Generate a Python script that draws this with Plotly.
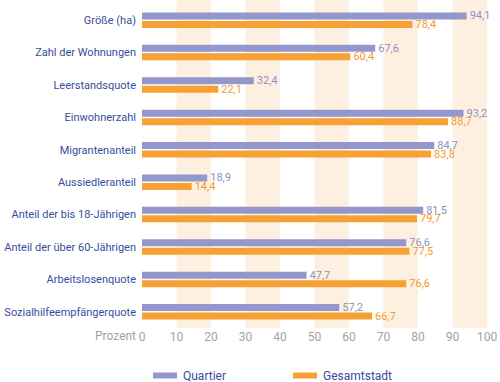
import plotly.graph_objects as go

categories = ["Größe (ha)", "Zahl der Wohnungen", "Leerstandsquote", "Einwohnerzahl",
              "Migrantenanteil", "Aussiedleranteil", "Anteil der bis 18-Jährigen",
              "Anteil der über 60-Jährigen", "Arbeitslosenquote", "Sozialhilfeempfängerquote"]
quartier = [94.1, 67.6, 32.4, 93.2, 84.7, 18.9, 81.5, 76.6, 47.7, 57.2]
gesamtstadt = [78.4, 60.4, 22.1, 88.7, 83.8, 14.4, 79.7, 77.5, 76.6, 66.7]
x_ticks = [0, 10, 20, 30, 40, 50, 60, 70, 80, 90, 100]
bands = [(10, 20), (30, 40), (50, 60), (70, 80), (90, 100)]

PURPLE = "#9397CB"
ORANGE = "#F7A033"
BAND = "#FDF0E1"
LABEL = "#3A4C9C"
GRAY = "#A3A3A3"
FONT = "Roboto, sans-serif"

def fmt(v):
    return f"{v:.1f}".replace(".", ",")

fig = go.Figure()
fig.add_trace(go.Bar(y=categories, x=quartier, orientation="h", name="Quartier",
                     marker=dict(color=PURPLE, line=dict(width=0)),
                     text=[fmt(v) for v in quartier], textposition="outside",
                     constraintext="none",
                     textfont=dict(color="#8D91C6", size=11, family=FONT),
                     cliponaxis=False))
fig.add_trace(go.Bar(y=categories, x=gesamtstadt, orientation="h", name="Gesamtstadt",
                     marker=dict(color=ORANGE, line=dict(width=0)),
                     text=[fmt(v) for v in gesamtstadt], textposition="outside",
                     constraintext="none",
                     textfont=dict(color="#F29A2E", size=11, family=FONT),
                     cliponaxis=False))

shapes = []
for a, b in bands:
    shapes.append(dict(type="rect", xref="x", yref="paper", x0=a, x1=b, y0=0, y1=1.02,
                       fillcolor=BAND, line=dict(width=0), layer="below"))

# custom legend
W, H = 345.0, 324.0
def px(xp):
    return (xp - 142) / W
def py(yp):
    return (328 - yp) / H
shapes.append(dict(type="rect", xref="paper", yref="paper", x0=px(153), x1=px(177),
                   y0=py(378.5), y1=py(372.5), fillcolor=PURPLE, line=dict(width=0)))
shapes.append(dict(type="rect", xref="paper", yref="paper", x0=px(293), x1=px(317),
                   y0=py(378.5), y1=py(372.5), fillcolor=ORANGE, line=dict(width=0)))

annotations = [
    dict(text="Quartier", xref="paper", yref="paper", x=px(181), y=py(376), xanchor="left",
         yanchor="middle", showarrow=False, font=dict(color=LABEL, size=12, family=FONT)),
    dict(text="Gesamtstadt", xref="paper", yref="paper", x=px(321), y=py(376), xanchor="left",
         yanchor="middle", showarrow=False, font=dict(color=LABEL, size=12, family=FONT)),
    dict(text="Prozent", xref="paper", yref="paper", x=px(138), y=py(336), xanchor="right",
         yanchor="middle", showarrow=False, font=dict(color=GRAY, size=12, family=FONT)),
]

fig.update_layout(
    width=500, height=382,
    margin=dict(l=142, r=13, t=4, b=54, autoexpand=False),
    paper_bgcolor="white", plot_bgcolor="white",
    barmode="group", bargap=0.475, bargroupgap=0.18,
    showlegend=False,
    shapes=shapes, annotations=annotations,
    font=dict(family=FONT),
    xaxis=dict(range=[0, 100], tickvals=x_ticks, ticktext=[str(t) for t in x_ticks],
               showgrid=False, zeroline=False, showline=False, ticks="", automargin=False,
               tickfont=dict(color=GRAY, size=12, family=FONT)),
    yaxis=dict(autorange="reversed", showgrid=False, zeroline=False, showline=False,
               ticks="", ticklabelstandoff=5, automargin=False,
               tickfont=dict(color=LABEL, size=11, family=FONT)),
)

fig.write_html("out.html", config={"displayModeBar": False},
               post_script="document.body.style.margin='0';document.body.style.padding='0';")
